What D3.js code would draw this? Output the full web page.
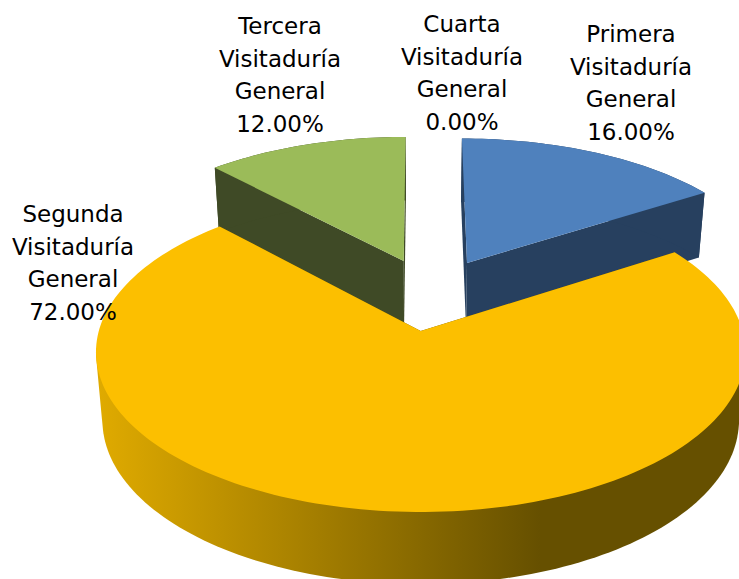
<!DOCTYPE html>
<html>
<head>
  <meta charset="utf-8">
  <title>Visitadurías</title>
  <script src="https://cdnjs.cloudflare.com/ajax/libs/d3/7.8.5/d3.min.js"></script>
  <style>
    html, body { margin: 0; padding: 0; background: #fff; }
    svg { display: block; }
    .label { font-family: "DejaVu Sans", sans-serif; font-size: 23px; fill: #000; text-anchor: middle; }
  </style>
</head>
<body>
  <div id="chart"></div>
  <script>
    // chart data
    var categories = ["Primera", "Segunda", "Tercera", "Cuarta"];
    var values = [16, 72, 12, 0];

    var width = 739, height = 579;

    var topColors = ["#4F81BD", "#FCBF00", "#9BBB59", "#8064A2"];
    var sideColors = ["#27405F", "#665000", "#3F4A26", "#403251"];

    // how far each slice is pulled out of the pie, in radius units
    var offsetU = [0.1525, 0, -0.056, 0];
    var offsetV = [-0.4586, 0, -0.4729, 0];

    // label centre x and first line baseline
    var labelX = [631, 73, 280, 462];
    var labelY = [42, 222, 34, 32];

    // perspective of the top and bottom faces
    var cx = 420.7;
    var dist = 7.62;
    var topFace = { y0: 331, a: 2453, b: 1198 };
    var bottomFace = { y0: 399, a: 2404, b: 1226 };

    function project(face, u, v) {
      return [cx + face.a * u / (dist - v), face.y0 + face.b * v / (dist - v)];
    }

    var svg = d3.select("#chart").append("svg")
      .attr("width", width)
      .attr("height", height);

    var grad = svg.append("defs").append("linearGradient")
      .attr("id", "wallGrad")
      .attr("gradientUnits", "userSpaceOnUse")
      .attr("x1", 100).attr("x2", 540).attr("y1", 0).attr("y2", 0);
    grad.append("stop").attr("offset", 0).attr("stop-color", "#DFAA00");
    grad.append("stop").attr("offset", 1).attr("stop-color", "#665000");

    var pie = d3.pie().sort(null).value(function(d) { return d; });
    var arcs = pie(values);
    var line = d3.line();

    // point of slice i on a face, at angle a and radius r
    function pt(face, i, a, r) {
      return project(face, offsetU[i] + r * Math.sin(a), offsetV[i] - r * Math.cos(a));
    }

    function rim(face, i, d) {
      var n = Math.max(2, Math.ceil((d.endAngle - d.startAngle) * 40));
      return d3.range(n + 1).map(function(k) {
        return pt(face, i, d.startAngle + (d.endAngle - d.startAngle) * k / n, 1);
      });
    }

    // outer wall of a slice, closed along the silhouette of its two faces
    function wall(i, d) {
      if (i != 1) return line(rim(topFace, i, d).concat(rim(bottomFace, i, d).reverse())) + "Z";
      var front = rim(topFace, i, d).concat(rim(bottomFace, i, d)).filter(function(p) {
        return p[1] > topFace.y0 + 15;
      });
      return line(d3.polygonHull(front)) + "Z";
    }

    // back slices first, the big slice last
    [2, 0, 1].forEach(function(i) {
      var d = arcs[i];
      var g = svg.append("g");
      [d.startAngle, d.endAngle].forEach(function(a) {
        g.append("path")
          .attr("d", line([pt(topFace, i, a, 0), pt(topFace, i, a, 1), pt(bottomFace, i, a, 1), pt(bottomFace, i, a, 0)]) + "Z")
          .attr("fill", sideColors[i]);
      });
      g.append("path")
        .attr("d", wall(i, d))
        .attr("fill", i == 1 ? "url(#wallGrad)" : sideColors[i]);
      g.append("path")
        .attr("d", line([pt(topFace, i, d.startAngle, 0)].concat(rim(topFace, i, d))) + "Z")
        .attr("fill", topColors[i]);
    });

    var pct = d3.format(".2f");
    categories.forEach(function(c, i) {
      var lines = [c, "Visitaduría", "General", pct(values[i]) + "%"];
      var t = svg.append("text").attr("class", "label");
      lines.forEach(function(s, k) {
        t.append("tspan")
          .attr("x", labelX[i])
          .attr("y", labelY[i] + k * 32.7)
          .text(s);
      });
    });
  </script>
</body>
</html>
